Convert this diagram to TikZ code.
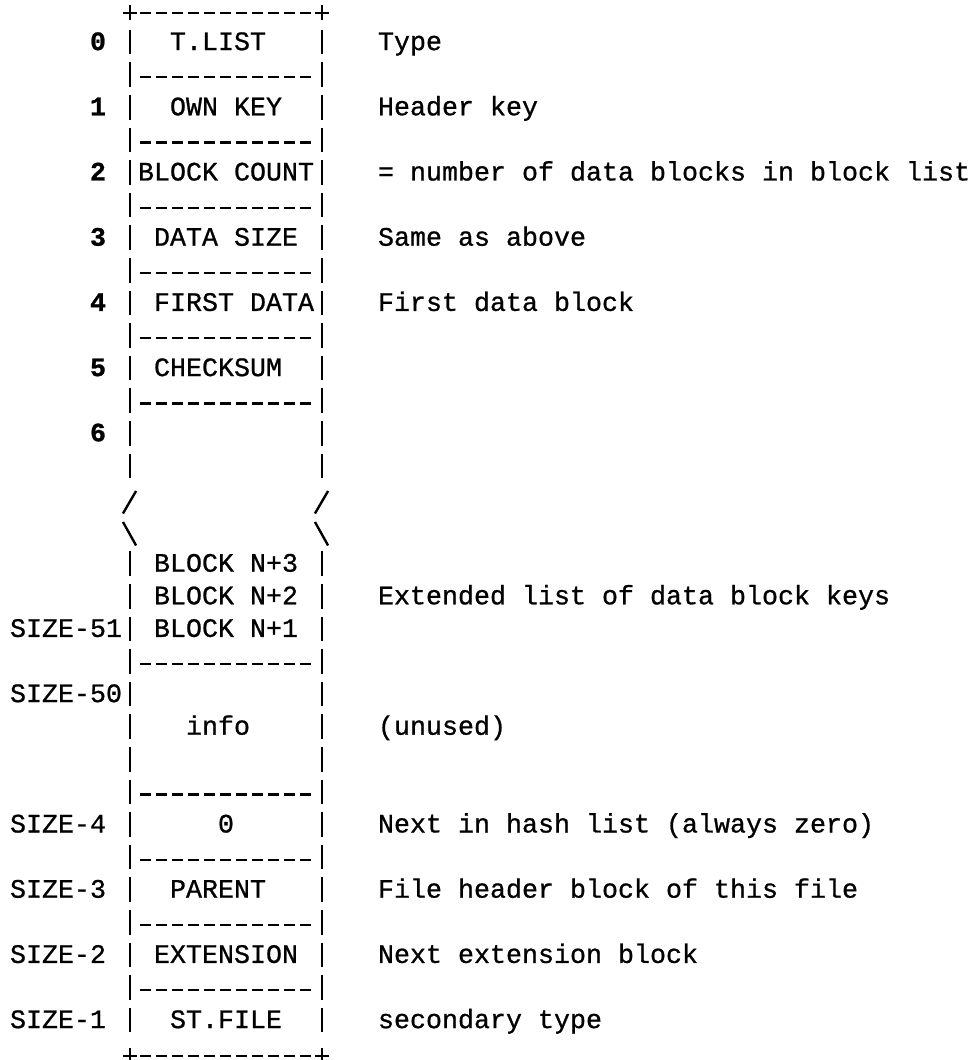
\documentclass[tikz,border=0pt]{standalone}
\usepackage{fontspec}
\setmonofont{Liberation Mono}[FakeBold=0.8]
\usepackage{tikz}
\usetikzlibrary{positioning}

\begin{document}
\begin{tikzpicture}[
    x=0.4cm,
    y=-0.815cm,
    font=\ttfamily\fontsize{18.97}{22}\selectfont,
    cell/.style={
        anchor=base west,
        inner sep=0pt,
        outer sep=0pt,
        yshift=-0.2cm
    },
    slot/.style={cell, font=\ttfamily\bfseries\fontsize{18.97}{22}\selectfont},
    note/.style={cell},
    wall/.style={line width=1.7pt},
    rule/.style={line width=1.7pt, dash pattern=on 7.8pt off 3.58pt}
]
\useasboundingbox (-0.625,-0.2914) rectangle (60.625,32.224);

% walls of the block
\foreach \x in {7.5,19.5} {
    \foreach \l in {1,...,14} {
        \draw[wall] (\x,\l-0.38) -- (\x,\l+0.38);
    }
    \foreach \l in {17,...,31} {
        \draw[wall] (\x,\l-0.38) -- (\x,\l+0.38);
    }
    \draw[wall] (\x-0.44,15.46) -- (\x+0.38,14.77);
    \draw[wall] (\x-0.44,15.72) -- (\x+0.38,16.44);
}

% top and bottom
\foreach \l in {0,32} {
    \draw[rule] (8.156,\l+0.1) -- (18.844,\l+0.1);
    \draw[wall] (7.06,\l+0.1) -- (7.94,\l+0.1) (7.5,\l-0.13) -- (7.5,\l+0.33);
    \draw[wall] (19.06,\l+0.1) -- (19.94,\l+0.1) (19.5,\l-0.13) -- (19.5,\l+0.33);
}

% separators
\foreach \l in {2,4,6,8,10,12,20,24,26,28,30} {
    \draw[rule] (8.156,\l+0.08) -- (18.844,\l+0.08);
}

\node[cell] (tlist) at (10,1) {T.LIST};
\node[cell] (ownkey) at (10,3) {OWN KEY};
\node[cell] (bcount) at (8,5) {BLOCK COUNT};
\node[cell] (dsize) at (9,7) {DATA SIZE};
\node[cell] (fdata) at (9,9) {FIRST DATA};
\node[cell] (csum) at (9,11) {CHECKSUM};
\node[cell] (bn3) at (9,17) {BLOCK N+3};
\node[cell] (bn2) at (9,18) {BLOCK N+2};
\node[cell] (bn1) at (9,19) {BLOCK N+1};
\node[cell] (info) at (11,22) {info};
\node[cell] (zero) at (13,25) {0};
\node[cell] (parent) at (10,27) {PARENT};
\node[cell] (ext) at (9,29) {EXTENSION};
\node[cell] (stfile) at (10,31) {ST.FILE};

% offsets
\foreach \n in {0,...,6} {
    \node[slot] (s\n) at (5,2*\n+1) {\n};
}
\node[cell] (sz51) at (0,19) {SIZE-51};
\node[cell] (sz50) at (0,21) {SIZE-50};
\node[cell] (sz4) at (0,25) {SIZE-4};
\node[cell] (sz3) at (0,27) {SIZE-3};
\node[cell] (sz2) at (0,29) {SIZE-2};
\node[cell] (sz1) at (0,31) {SIZE-1};

\node[note] (dtype) at (23,1) {Type};
\node[note] (dkey) at (23,3) {Header key};
\node[note] (dcount) at (23,5) {= number of data blocks in block list};
\node[note] (dsame) at (23,7) {Same as above};
\node[note] (dfirst) at (23,9) {First data block};
\node[note] (dext) at (23,18) {Extended list of data block keys};
\node[note] (dunused) at (23,22) {(unused)};
\node[note] (dhash) at (23,25) {Next in hash list (always zero)};
\node[note] (dparent) at (23,27) {File header block of this file};
\node[note] (dnext) at (23,29) {Next extension block};
\node[note] (dsec) at (23,31) {secondary type};

\end{tikzpicture}
\end{document}
